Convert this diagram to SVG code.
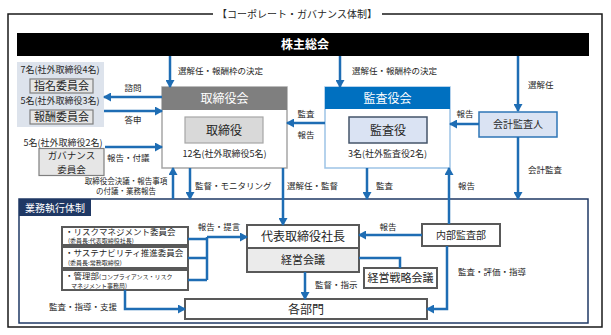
<svg xmlns="http://www.w3.org/2000/svg" width="611" height="335" viewBox="0 0 611 335">
<defs>
<marker id="ah" markerUnits="userSpaceOnUse" markerWidth="9" markerHeight="9" refX="7" refY="4.5" orient="auto">
<path d="M0,0 L8,4.5 L0,9 Z" fill="#1e6db4"/>
</marker>
</defs>
<style>
text{font-family:"Noto Sans CJK JP","Noto Sans",sans-serif;fill:#262626}
.s{font-size:8.5px}
.xs{font-size:6px}
.m{font-size:11px}
.l{font-size:12px}
.c{text-anchor:middle}
.e{text-anchor:end}
.w{fill:#ffffff}
.ln{fill:none;stroke:#1e6db4;stroke-width:2.5}
.lna{fill:none;stroke:#1e6db4;stroke-width:2.5;marker-end:url(#ah)}
.gb{fill:#ffffff;stroke:#595959;stroke-width:2}
</style>
<rect width="611" height="335" fill="#ffffff"/>
<g id="frame">
<path d="M213,14 H8 V327 H602 V14 H382" fill="none" stroke="#1a1a1a" stroke-width="1.5"/>
<text x="297" y="18" class="c" style="font-size:10px">【コーポレート・ガバナンス体制】</text>
</g>
<g id="shareholders">
<rect x="17" y="33" width="572" height="23" fill="#000000"/>
<text x="305" y="49" class="l c w" style="font-weight:bold">株主総会</text>
</g>
<g id="nomination">
<rect x="17" y="62" width="87" height="65" fill="#dde3ec"/>
<text x="60" y="73" class="c" style="font-size:9px">7名(社外取締役4名)</text>
<rect x="30" y="79" width="63" height="14" fill="#e6e6e6" stroke="#7f7f7f" stroke-width="1.2"/>
<text x="61.5" y="90" class="m c">指名委員会</text>
<text x="60" y="104" class="c" style="font-size:9px">5名(社外取締役3名)</text>
<rect x="30" y="110" width="63" height="14" fill="#e6e6e6" stroke="#7f7f7f" stroke-width="1.2"/>
<text x="61.5" y="121" class="m c">報酬委員会</text>
</g>
<g id="governance">
<text x="63" y="146" class="c" style="font-size:9px">5名(社外取締役2名)</text>
<rect x="39" y="148.5" width="65" height="27" fill="#e6e6e6" stroke="#7f7f7f" stroke-width="1.2"/>
<text x="71.5" y="159" class="c" style="font-size:9.5px">ガバナンス</text>
<text x="71.5" y="173" class="c" style="font-size:9.5px">委員会</text>
</g>
<g id="board">
<rect x="162" y="87" width="125" height="81" fill="#ffffff" stroke="#a6a6a6" stroke-width="1.5"/>
<rect x="162" y="87" width="125" height="23" fill="#7f7f7f"/>
<text x="224.5" y="103" class="l c w">取締役会</text>
<rect x="185" y="117" width="78" height="26" fill="#d9d9d9" stroke="#a6a6a6" stroke-width="1.2"/>
<text x="224" y="134.5" class="l c">取締役</text>
<text x="224.5" y="157" class="c" style="font-size:9px">12名(社外取締役5名)</text>
</g>
<g id="auditboard">
<rect x="325" y="87" width="125" height="81" fill="#ffffff" stroke="#9dc3e6" stroke-width="1.5"/>
<rect x="325" y="87" width="125" height="22" fill="#0070c0"/>
<text x="387.5" y="102.5" class="l c w">監査役会</text>
<rect x="349" y="117" width="78" height="26" fill="#dae3f3" stroke="#44546a" stroke-width="1.5"/>
<text x="388" y="134.5" class="l c">監査役</text>
<text x="387.5" y="156.5" class="c" style="font-size:9px">3名(社外監査役2名)</text>
</g>
<g id="accountant">
<rect x="479" y="112" width="78" height="25" fill="#dae3f3" stroke="#2e75b6" stroke-width="1.5"/>
<text x="518" y="128" class="c" style="font-size:10px">会計監査人</text>
</g>
<g id="execution">
<rect x="19" y="199" width="569" height="124" fill="none" stroke="#1f3864" stroke-width="1.5"/>
<rect x="19" y="199" width="72" height="17" fill="#1f3864"/>
<text x="55" y="211.5" class="c w" style="font-size:10px">業務執行体制</text>
</g>
<g id="risk">
<rect x="62" y="227" width="126" height="18" class="gb"/>
<text x="65" y="235" style="font-size:8.5px">・リスクマネジメント委員会</text>
<text x="68" y="243" class="xs">(委員長:代表取締役社長)</text>
</g>
<g id="sustain">
<rect x="62" y="247" width="126" height="21" class="gb"/>
<text x="65" y="256" style="font-size:8.5px">・サステナビリティ推進委員会</text>
<text x="68" y="265" class="xs">(委員長:常務取締役)</text>
</g>
<g id="admin">
<rect x="62" y="270" width="126" height="20" class="gb"/>
<text x="65" y="279" style="font-size:8.5px">・管理部<tspan class="xs">(コンプライアンス・リスク</tspan></text>
<text x="71" y="287.5" class="xs">マネジメント事務局)</text>
</g>
<g id="president">
<rect x="247" y="225" width="112" height="23" class="gb"/>
<text x="303" y="241" class="l c">代表取締役社長</text>
</g>
<g id="mgmt">
<rect x="247" y="248" width="112" height="24" fill="#ebebeb" stroke="#595959" stroke-width="2"/>
<text x="303" y="264" class="m c">経営会議</text>
</g>
<g id="strategy">
<rect x="364" y="268" width="73" height="20" class="gb"/>
<text x="400.5" y="282" class="m c">経営戦略会議</text>
</g>
<g id="internal">
<rect x="422" y="224" width="78" height="22" class="gb"/>
<text x="461" y="239" class="c" style="font-size:10px">内部監査部</text>
</g>
<g id="depts">
<rect x="185" y="299" width="242" height="20" class="gb"/>
<text x="306" y="313.5" class="l c">各部門</text>
</g>
<g id="connectors">
<path d="M170,56 V87" class="lna"/>
<path d="M340,56 V87" class="lna"/>
<path d="M518,56 V111" class="lna"/>
<path d="M162,97 H104" class="lna"/>
<path d="M104,111 H162" class="lna"/>
<path d="M105,147 H162" class="lna"/>
<path d="M325,123 H287" class="lna"/>
<path d="M479,124 H450" class="lna"/>
<path d="M518,137 V199" class="lna"/>
<path d="M173,199 V168" class="lna"/>
<path d="M190,168 V199" class="lna"/>
<path d="M283,168 V225" class="lna"/>
<path d="M367,168 V199" class="lna"/>
<path d="M449,224 V168" class="lna"/>
<path d="M422,235 H359" class="lna"/>
<path d="M447,246 V309 H427" class="lna"/>
<path d="M305,272 V299" class="lna"/>
<path d="M188,239 H207 M188,258 H207 M188,280 H207 M207,237 V280" class="ln"/>
<path d="M207,237 H247" class="lna"/>
<path d="M125,290 V309 H185" class="lna"/>
<path d="M359,258 H400 V268" class="ln"/>
</g>
<g id="labels">
<text x="178" y="74" class="s">選解任・報酬枠の決定</text>
<text x="352" y="74" class="s">選解任・報酬枠の決定</text>
<text x="528" y="88" class="s">選解任</text>
<text x="133" y="91" class="s c">諮問</text>
<text x="133" y="123" class="s c">答申</text>
<text x="107" y="161" class="s">報告・付議</text>
<text x="306" y="117" class="s c">監査</text>
<text x="306" y="138" class="s c">報告</text>
<text x="465" y="117" class="s c">報告</text>
<text x="528" y="173" class="s">会計監査</text>
<text x="126" y="184" class="c" style="font-size:7.5px">取締役会決議・報告事項</text>
<text x="126" y="194" class="c" style="font-size:7.5px">の付議・業務報告</text>
<text x="195" y="189" class="s">監督・モニタリング</text>
<text x="287" y="189" class="s">選解任・監督</text>
<text x="376" y="189" class="s">監査</text>
<text x="458" y="189" class="s">報告</text>
<text x="219" y="230" class="s c">報告・提言</text>
<text x="388" y="230" class="s c">報告</text>
<text x="458" y="275" class="s">監査・評価・指導</text>
<text x="315" y="288" class="s">監督・指示</text>
<text x="117" y="310" class="s e">監査・指導・支援</text>
</g>
</svg>
